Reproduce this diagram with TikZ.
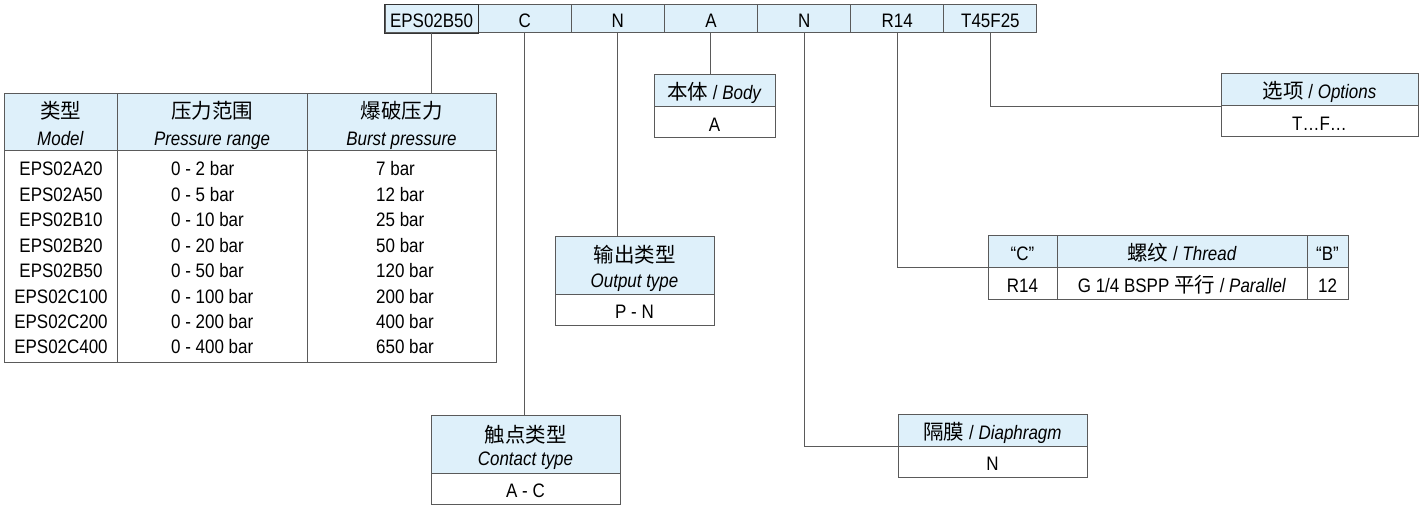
\documentclass[tikz,border=0pt]{standalone}
\usepackage{fontspec}
\setmainfont{Liberation Sans}[FakeStretch=0.87]
\newfontfamily\cjk{Noto Sans CJK SC}
\newcommand{\zh}[1]{{\cjk\fontsize{20.5}{24}\selectfont #1}}
\definecolor{hdrblue}{HTML}{DEF0FA}
\definecolor{rulegray}{HTML}{5A5A5A}

\begin{document}
\begin{tikzpicture}[x=1pt,y=-1pt,
  every node/.style={font=\fontsize{19.5}{23}\selectfont, inner sep=0pt},
  cell/.style={draw=rulegray, line width=1pt, text height=18pt, text depth=0pt},
  hcell/.style={cell, fill=hdrblue},
  vcell/.style={cell, fill=white},
  txt/.style={anchor=base},
  link/.style={draw=rulegray, line width=1pt}]
  \useasboundingbox (0,0) rectangle (1424,505);

  % code bar
  \foreach \code [count=\i] in {EPS02B50,C,N,A,N,R14,T45F25}
    \node[hcell, minimum width=93.14pt, minimum height=28pt] (c\i) at ({385+93.14*(\i-0.5)},19) {\code};
  \draw[black!80, line width=1pt] (c1.north west) rectangle (c1.south east);

  % model table
  \foreach \cx/\w/\zhtxt/\entxt [count=\j] in {60.5/113/类型/Model, 212/190/压力范围/Pressure range, 401.5/189/爆破压力/Burst pressure} {
    \node[hcell, minimum width=\w pt, minimum height=57pt] (mh\j) at (\cx,122.5) {};
    \node[vcell, minimum width=\w pt, minimum height=211pt] (md\j) at (\cx,256.5) {};
    \node[txt] (mz\j) at ([yshift=-25.5pt]mh\j.north) {\zh{\zhtxt}};
    \node[txt] (me\j) at ([yshift=6pt]mh\j.south) {\textit{\entxt}};
  }
  \foreach \mdl/\rng/\brst [count=\k from 0] in {EPS02A20/0 - 2 bar/7 bar, EPS02A50/0 - 5 bar/12 bar,
      EPS02B10/0 - 10 bar/25 bar, EPS02B20/0 - 20 bar/50 bar, EPS02B50/0 - 50 bar/120 bar,
      EPS02C100/0 - 100 bar/200 bar, EPS02C200/0 - 200 bar/400 bar, EPS02C400/0 - 400 bar/650 bar} {
    \node[txt] (ma\k) at (61,{176+25.4*\k}) {\mdl};
    \node[txt, anchor=base west] (mb\k) at (171,{176+25.4*\k}) {\rng};
    \node[txt, anchor=base west] (mc\k) at (376,{176+25.4*\k}) {\brst};
  }

  % body
  \node[hcell, minimum width=121pt, minimum height=32pt] (body-h) at (714.5,91) {\zh{本体} / \textit{Body}};
  \node[vcell, minimum width=121pt, minimum height=31pt] (body-v) at (714.5,122.5) {A};

  % output type
  \node[hcell, minimum width=159pt, minimum height=58pt] (out-h) at (634.5,265) {};
  \node[txt] (out-zh) at ([yshift=-27pt]out-h.north) {\zh{输出类型}};
  \node[txt] (out-en) at ([yshift=7pt]out-h.south) {\textit{Output type}};
  \node[vcell, minimum width=159pt, minimum height=31pt] (out-v) at (634.5,309.5) {P - N};

  % contact type
  \node[hcell, minimum width=189pt, minimum height=58pt] (con-h) at (525.5,444) {};
  \node[txt] (con-zh) at ([yshift=-28pt]con-h.north) {\zh{触点类型}};
  \node[txt] (con-en) at ([yshift=8pt]con-h.south) {\textit{Contact type}};
  \node[vcell, minimum width=189pt, minimum height=31pt] (con-v) at (525.5,488.5) {A - C};

  % diaphragm
  \node[hcell, minimum width=189pt, minimum height=32pt] (dia-h) at (992.5,430) {\zh{隔膜} / \textit{Diaphragm}};
  \node[vcell, minimum width=189pt, minimum height=31pt] (dia-v) at (992.5,461.5) {N};

  % thread
  \node[hcell, minimum width=69pt, minimum height=32pt] (th1) at (1022.5,251) {“C”};
  \node[hcell, minimum width=250pt, minimum height=32pt] (th2) at (1182,251) {\zh{螺纹} / \textit{Thread}};
  \node[hcell, minimum width=41pt, minimum height=32pt] (th3) at (1327.5,251) {“B”};
  \node[vcell, minimum width=69pt, minimum height=32pt] (tv1) at (1022.5,283) {R14};
  \node[vcell, minimum width=250pt, minimum height=32pt] (tv2) at (1182,283) {G 1/4 BSPP \zh{平行} / \textit{Parallel}};
  \node[vcell, minimum width=41pt, minimum height=32pt] (tv3) at (1327.5,283) {12};

  % options
  \node[hcell, minimum width=197pt, minimum height=32pt] (opt-h) at (1319.5,90) {\zh{选项} / \textit{Options}};
  \node[vcell, minimum width=197pt, minimum height=31pt] (opt-v) at (1319.5,121.5) {T…F…};

  % connectors
  \draw[link] (c1.south) -- (c1.south |- mh1.north);
  \draw[link] (c2.south) -- (c2.south |- con-h.north);
  \draw[link] (c3.south) -- (c3.south |- out-h.north);
  \draw[link] (c4.south) -- (c4.south |- body-h.north);
  \draw[link] (c5.south) |- (dia-h.south west);
  \draw[link] (c6.south) |- (th1.south west);
  \draw[link] (c7.south) |- (opt-h.south west);
\end{tikzpicture}
\end{document}
